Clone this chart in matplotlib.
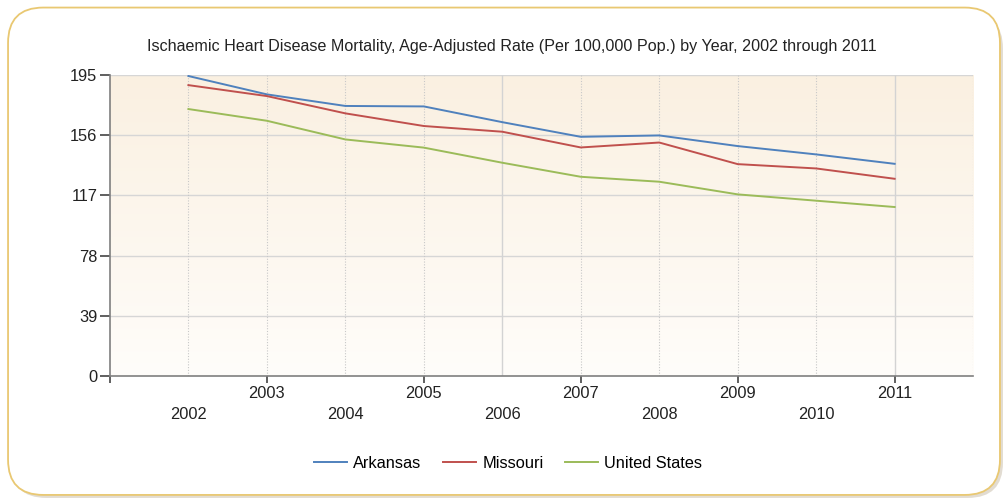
# Ischaemic heart disease mortality, age-adjusted rate by year

import numpy as np
import matplotlib.pyplot as plt
from matplotlib.patches import FancyBboxPatch
from matplotlib.colors import LinearSegmentedColormap

years = [2002, 2003, 2004, 2005, 2006, 2007, 2008, 2009, 2010, 2011]
arkansas = [194.4, 182.5, 175.0, 174.7, 164.5, 155.0, 155.9, 149.0, 143.6, 137.5]
missouri = [188.5, 181.4, 170.2, 162.0, 158.3, 148.1, 151.3, 137.3, 134.5, 127.8]
united_states = [173.0, 165.4, 153.3, 148.0, 138.2, 129.1, 125.9, 117.7, 113.6, 109.5]
y_ticks = [0, 39, 78, 117, 156, 195]

title = 'Ischaemic Heart Disease Mortality, Age-Adjusted Rate (Per 100,000 Pop.) by Year, 2002 through 2011'

plt.rcParams['font.family'] = ['Liberation Sans', 'DejaVu Sans']

fig = plt.figure(figsize=(10.06, 5.04), dpi=100)

# рамка с закруглёнными углами и тенью
shadow = FancyBboxPatch((0.011, 0.012), 0.986, 0.962,
                        boxstyle='round,pad=0,rounding_size=0.035',
                        transform=fig.transFigure, facecolor='#cfc6b4',
                        edgecolor='none', alpha=0.6, zorder=0,
                        mutation_aspect=2)
fig.patches.append(shadow)
frame = FancyBboxPatch((0.008, 0.018), 0.986, 0.967,
                       boxstyle='round,pad=0,rounding_size=0.035',
                       transform=fig.transFigure, facecolor='white',
                       edgecolor='#e9c872', linewidth=1.3, zorder=0.5,
                       mutation_aspect=2)
fig.patches.append(frame)

fig.text(0.509, 1 - 47 / 504, title, fontsize=11.6, color='#222222',
         ha='center', va='center')

ax = fig.add_axes([0.1093, 0.254, 0.858, 0.597])
ax.set_zorder(2)
ax.patch.set_visible(False)

x_min, x_max = years[0] - 1, years[-1] + 1
ax.set_xlim(x_min, x_max)
ax.set_ylim(0, 195)

# градиентный фон области графика
cmap = LinearSegmentedColormap.from_list('bg', ['#fffdfa', '#faf0e1'])
grad = np.linspace(0, 1, 256).reshape(-1, 1)
ax.imshow(grad, cmap=cmap, aspect='auto', origin='lower',
          extent=[x_min, x_max, 0, 195], zorder=0)

# сетка
for y in y_ticks[1:]:
    ax.axhline(y, color='#d6d6d6', linewidth=1.0, zorder=1)
for x in range(x_min + 1, x_max + 1):
    if (x - x_min) % 5 == 0:
        ax.axvline(x, color='#d3d3d3', linewidth=1.0, zorder=1)
    else:
        ax.axvline(x, color='#c8c8c8', linewidth=0.8, linestyle=(0, (1, 1.5)), zorder=1)

ax.plot(years, arkansas, color='#4f81bd', linewidth=1.4, label='Arkansas', zorder=3)
ax.plot(years, missouri, color='#c0504d', linewidth=1.4, label='Missouri', zorder=3)
ax.plot(years, united_states, color='#9bbb59', linewidth=1.4, label='United States', zorder=3)

for side in ['top', 'right']:
    ax.spines[side].set_visible(False)
for side in ['left', 'bottom']:
    ax.spines[side].set_color('#7f7f7f')
    ax.spines[side].set_linewidth(1.2)

ax.set_yticks(y_ticks)
ax.set_yticklabels([str(v) for v in y_ticks])
ax.tick_params(axis='y', length=7, width=1.2, color='#444444',
               labelsize=11.8, labelcolor='#222222', pad=2)

ax.set_xticks([x_min] + years)
ax.set_xticklabels([''] + [str(y) for y in years])
ax.tick_params(axis='x', length=5, width=1.2, color='#444444',
               labelsize=11.8, labelcolor='#222222')
for tick, val in zip(ax.xaxis.get_major_ticks(), [x_min] + years):
    if val % 2 == 0:
        tick.tick1line.set_visible(False)
        tick.set_pad(17)
    else:
        tick.set_pad(2)

handles, labels = ax.get_legend_handles_labels()
fig.legend(handles, labels, loc='center', bbox_to_anchor=(508 / 1006, 1 - 463 / 504),
           ncol=3, frameon=False, fontsize=11.8, handlelength=2.0,
           columnspacing=1.3, handletextpad=0.4)

plt.savefig('out.png', dpi=100)
